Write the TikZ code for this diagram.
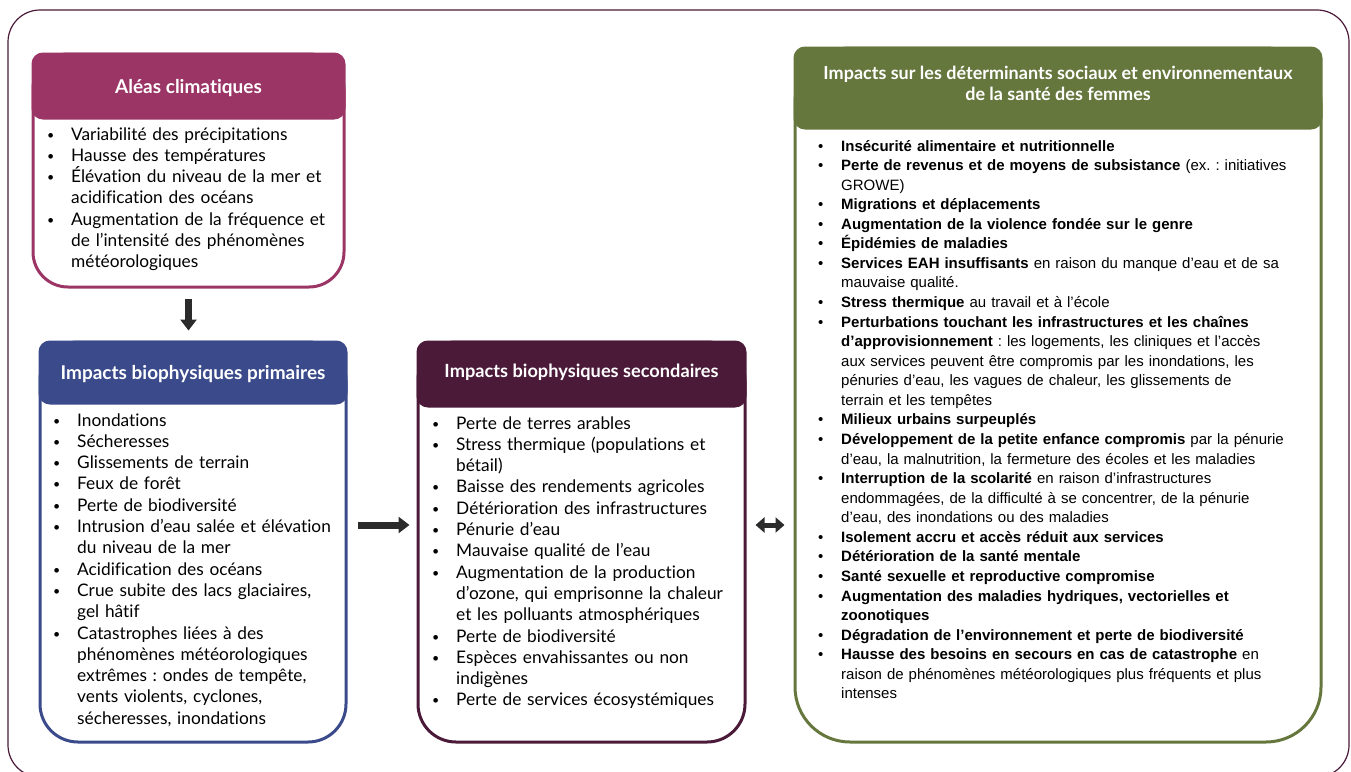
\documentclass[tikz,border=0pt]{standalone}
\usepackage{fontspec}
\setmainfont{Lato}[Ligatures=NoCommon]
\newfontfamily\arialfont{Liberation Sans}
\usetikzlibrary{arrows.meta}
\definecolor{hazardcol}{HTML}{9B3565}
\definecolor{primcol}{HTML}{3A4A8A}
\definecolor{seccol}{HTML}{4A1A38}
\definecolor{socialcol}{HTML}{66773E}
\definecolor{arrowcol}{HTML}{2B2B2B}
\frenchspacing
% bullets: small ones for the left boxes, plain ones for the right box
\newcommand\itm{\makebox[24pt][l]{\raisebox{1pt}{\scalebox{0.72}{\textbullet}}}}
\newcommand\cnt{\hspace*{24pt}}
\newcommand\itmr{\makebox[23pt][l]{\textbullet}}
\newcommand\cntr{\hspace*{23pt}}

\begin{document}
\begin{tikzpicture}[
                x=1pt, y=-1pt,
                bodybox/.style={rectangle, line width=3pt, fill=white, anchor=north west, inner sep=0pt},
                headbox/.style={rectangle, rounded corners=10pt, line width=3pt, anchor=north, inner sep=0pt, text=white, font=\bfseries\fontsize{19}{21}\selectfont, align=center},
                bodytext/.style={anchor=base west, inner sep=0pt, text width=330pt, align=left, font=\fontsize{17.3}{21.3}\selectfont},
                socialtext/.style={anchor=base west, inner sep=0pt, text width=500pt, align=left, font=\arialfont\fontsize{15}{19.57}\selectfont},
                blockarrow/.style={draw=arrowcol, line width=7pt, -{Triangle[length=11pt,width=16pt]}},
                doublearrow/.style={draw=arrowcol, line width=5pt, {Triangle[length=9pt,width=15pt]}-{Triangle[length=9pt,width=15pt]}}
                ]
                \clip (0,0) rectangle (1351,771);
                \draw[seccol, line width=1.2pt, rounded corners=32pt] (8,10) rectangle (1349,777);

                % climate hazards
                \node[bodybox, draw=hazardcol, minimum width=311pt, minimum height=233pt, rounded corners=35pt] (hazard) at (31.5,52.5) {};
                \node[headbox, fill=hazardcol, draw=hazardcol, minimum width=311pt, minimum height=64pt, text depth=-3pt] (hazardhead) at (hazard.north) {Aléas climatiques};
                \node[bodytext] (hazardlist) at (47,140) {\itm Variabilité des précipitations\\
                    \itm Hausse des températures\\
                    \itm Élévation du niveau de la mer et\\
                    \cnt acidification des océans\\
                    \itm Augmentation de la fréquence et\\
                    \cnt de l’intensité des phénomènes\\
                    \cnt météorologiques};

                % primary impacts
                \node[bodybox, draw=primcol, minimum width=306pt, minimum height=400pt, rounded corners=38pt] (primary) at (38.5,340.5) {};
                \node[headbox, fill=primcol, draw=primcol, minimum width=306pt, minimum height=61pt, text depth=0pt] (primaryhead) at (primary.north) {Impacts biophysiques primaires};
                \node[bodytext] (primarylist) at (53,426) {\itm Inondations\\
                    \itm Sécheresses\\
                    \itm Glissements de terrain\\
                    \itm Feux de forêt\\
                    \itm Perte de biodiversité\\
                    \itm Intrusion d’eau salée et élévation\\
                    \cnt du niveau de la mer\\
                    \itm Acidification des océans\\
                    \itm Crue subite des lacs glaciaires,\\
                    \cnt gel hâtif\\
                    \itm Catastrophes liées à des\\
                    \cnt phénomènes météorologiques\\
                    \cnt extrêmes : ondes de tempête,\\
                    \cnt vents violents, cyclones,\\
                    \cnt sécheresses, inondations};

                % secondary impacts
                \node[bodybox, draw=seccol, minimum width=327pt, minimum height=400pt, rounded corners=38pt] (secondary) at (416.5,340.5) {};
                \node[headbox, fill=seccol, draw=seccol, minimum width=327pt, minimum height=64pt, text depth=7pt, font=\bfseries\fontsize{18.2}{20}\selectfont] (secondaryhead) at (secondary.north) {Impacts biophysiques secondaires};
                \node[bodytext] (secondarylist) at (432,429) {\itm Perte de terres arables\\
                    \itm Stress thermique (populations et\\
                    \cnt bétail)\\
                    \itm Baisse des rendements agricoles\\
                    \itm Détérioration des infrastructures\\
                    \itm Pénurie d’eau\\
                    \itm Mauvaise qualité de l’eau\\
                    \itm Augmentation de la production\\
                    \cnt d’ozone, qui emprisonne la chaleur\\
                    \cnt et les polluants atmosphériques\\
                    \itm Perte de biodiversité\\
                    \itm Espèces envahissantes ou non\\
                    \cnt indigènes\\
                    \itm Perte de services écosystémiques};

                % social and environmental determinants
                \node[bodybox, draw=socialcol, minimum width=526pt, minimum height=694pt, rounded corners=55pt] (social) at (793.5,46.5) {};
                \node[headbox, fill=socialcol, draw=socialcol, minimum width=526pt, minimum height=80pt] (socialhead) at (social.north) {};
                \node[text=white, font=\bfseries\fontsize{18}{21}\selectfont, align=center, inner sep=0pt] (socialtitle) at ([yshift=4.5pt]socialhead.center) {Impacts sur les déterminants sociaux et environnementaux\\de la santé des femmes};
                \node[socialtext] (sociallist) at (818,151) {\itmr\textbf{Insécurité alimentaire et nutritionnelle}\\
                    \itmr\textbf{Perte de revenus et de moyens de subsistance} (ex. : initiatives\\
                    \cntr GROWE)\\
                    \itmr\textbf{Migrations et déplacements}\\
                    \itmr\textbf{Augmentation de la violence fondée sur le genre}\\
                    \itmr\textbf{Épidémies de maladies}\\
                    \itmr\textbf{Services EAH insuffisants} en raison du manque d’eau et de sa\\
                    \cntr mauvaise qualité.\\
                    \itmr\textbf{Stress thermique} au travail et à l’école\\
                    \itmr\textbf{Perturbations touchant les infrastructures et les chaînes}\\
                    \cntr\textbf{d’approvisionnement} : les logements, les cliniques et l’accès\\
                    \cntr aux services peuvent être compromis par les inondations, les\\
                    \cntr pénuries d’eau, les vagues de chaleur, les glissements de\\
                    \cntr terrain et les tempêtes\\
                    \itmr\textbf{Milieux urbains surpeuplés}\\
                    \itmr\textbf{Développement de la petite enfance compromis} par la pénurie\\
                    \cntr d’eau, la malnutrition, la fermeture des écoles et les maladies\\
                    \itmr\textbf{Interruption de la scolarité} en raison d’infrastructures\\
                    \cntr endommagées, de la difficulté à se concentrer, de la pénurie\\
                    \cntr d’eau, des inondations ou des maladies\\
                    \itmr\textbf{Isolement accru et accès réduit aux services}\\
                    \itmr\textbf{Détérioration de la santé mentale}\\
                    \itmr\textbf{Santé sexuelle et reproductive compromise}\\
                    \itmr\textbf{Augmentation des maladies hydriques, vectorielles et}\\
                    \cntr\textbf{zoonotiques}\\
                    \itmr\textbf{Dégradation de l’environnement et perte de biodiversité}\\
                    \itmr\textbf{Hausse des besoins en secours en cas de catastrophe} en\\
                    \cntr raison de phénomènes météorologiques plus fréquents et plus\\
                    \cntr intenses};

                \draw[blockarrow, shorten <=10pt, shorten >=10pt] (hazard.south) -- (hazard.south |- primary.north);
                \draw[blockarrow, shorten <=10pt, shorten >=7pt] ([yshift=17pt]primary.east) -- ([yshift=17pt]primary.east -| secondary.west);
                \draw[doublearrow, shorten <=9pt, shorten >=9pt] ([yshift=17pt]secondary.east) -- ([yshift=17pt]secondary.east -| social.west);
            \end{tikzpicture}
\end{document}
